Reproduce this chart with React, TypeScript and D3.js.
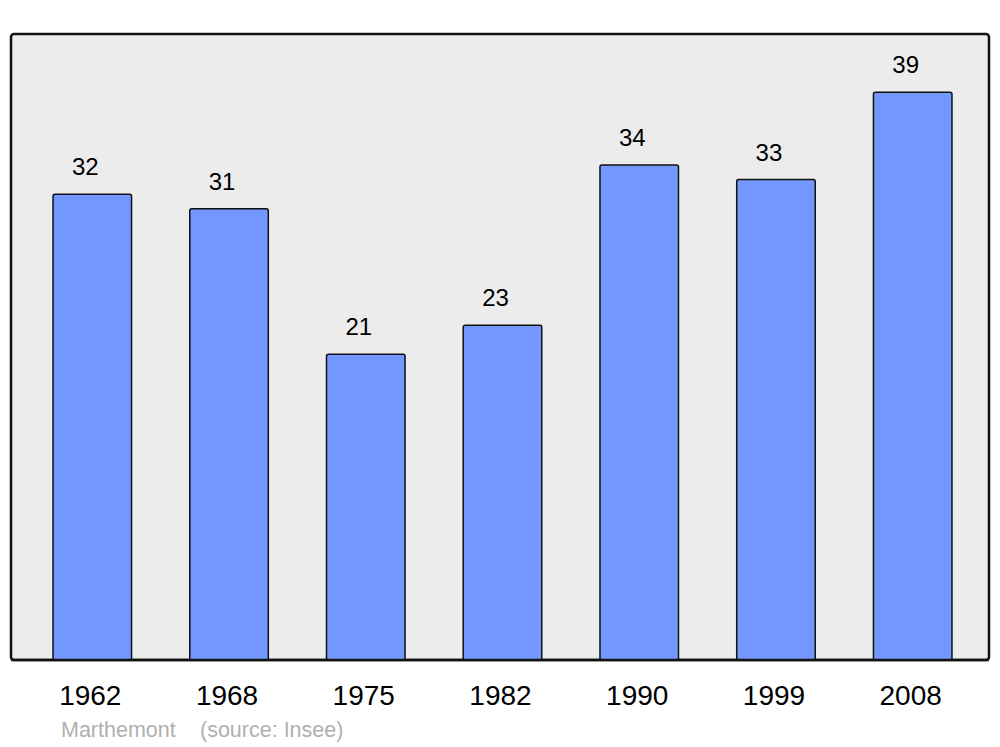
import React, { useEffect, useRef } from 'react';
import * as d3 from 'd3';

const years = ['1962', '1968', '1975', '1982', '1990', '1999', '2008'];
const values = [32, 31, 21, 23, 34, 33, 39];

const App = () => {
  const svgRef = useRef<SVGSVGElement>(null);

  useEffect(() => {
    const width = 1000;
    const height = 747;
    const frame = { left: 11, right: 989, top: 34, bottom: 660 };

    const svg = d3.select(svgRef.current);
    svg.selectAll('*').remove();
    svg.attr('width', width).attr('height', height);

    const x = d3
      .scaleBand()
      .domain(years)
      .range([12, 993])
      .paddingInner(0.4256)
      .paddingOuter(0.3);

    const y = d3
      .scaleLinear()
      .domain([0, 43])
      .range([frame.bottom, frame.top]);

    // background frame
    svg
      .append('rect')
      .attr('x', frame.left)
      .attr('y', frame.top)
      .attr('width', frame.right - frame.left)
      .attr('height', frame.bottom - frame.top)
      .attr('rx', 3)
      .attr('fill', '#ececec')
      .attr('stroke', '#111')
      .attr('stroke-width', 2.5);

    const g = svg.append('g');

    g.selectAll('rect.bar')
      .data(values)
      .enter()
      .append('rect')
      .attr('class', 'bar')
      .attr('x', (d, i) => x(years[i])!)
      .attr('y', d => y(d))
      .attr('width', x.bandwidth())
      .attr('height', d => frame.bottom - y(d))
      .attr('rx', 2)
      .attr('fill', '#7298ff')
      .attr('stroke', '#111')
      .attr('stroke-width', 1.5);

    // redraw bottom line of frame on top of bars
    svg
      .append('line')
      .attr('x1', frame.left)
      .attr('x2', frame.right)
      .attr('y1', frame.bottom)
      .attr('y2', frame.bottom)
      .attr('stroke', '#111')
      .attr('stroke-width', 2.5);

    g.selectAll('text.value')
      .data(values)
      .enter()
      .append('text')
      .attr('class', 'value')
      .attr('x', (d, i) => x(years[i])! + x.bandwidth() / 2 - 7)
      .attr('y', d => y(d) - 19)
      .attr('text-anchor', 'middle')
      .style('font-family', '"Liberation Sans", Arial, sans-serif')
      .style('font-size', '24px')
      .attr('fill', '#000')
      .text(d => d);

    g.selectAll('text.year')
      .data(years)
      .enter()
      .append('text')
      .attr('class', 'year')
      .attr('x', d => x(d)! + x.bandwidth() / 2 - 2)
      .attr('y', 705)
      .attr('text-anchor', 'middle')
      .style('font-family', '"Liberation Sans", Arial, sans-serif')
      .style('font-size', '28px')
      .attr('fill', '#000')
      .text(d => d);

    svg
      .append('text')
      .attr('x', 61)
      .attr('y', 737)
      .style('font-family', '"Liberation Sans", Arial, sans-serif')
      .style('font-size', '21.5px')
      .attr('fill', '#b0b0b0')
      .text('Marthemont');

    svg
      .append('text')
      .attr('x', 200)
      .attr('y', 737)
      .style('font-family', '"Liberation Sans", Arial, sans-serif')
      .style('font-size', '21.5px')
      .attr('fill', '#b0b0b0')
      .text('(source: Insee)');
  }, []);

  return (
    <div style={{ position: 'absolute', left: 0, top: 0 }}>
      <svg ref={svgRef} style={{ display: 'block' }}></svg>
    </div>
  );
};

export default App;
